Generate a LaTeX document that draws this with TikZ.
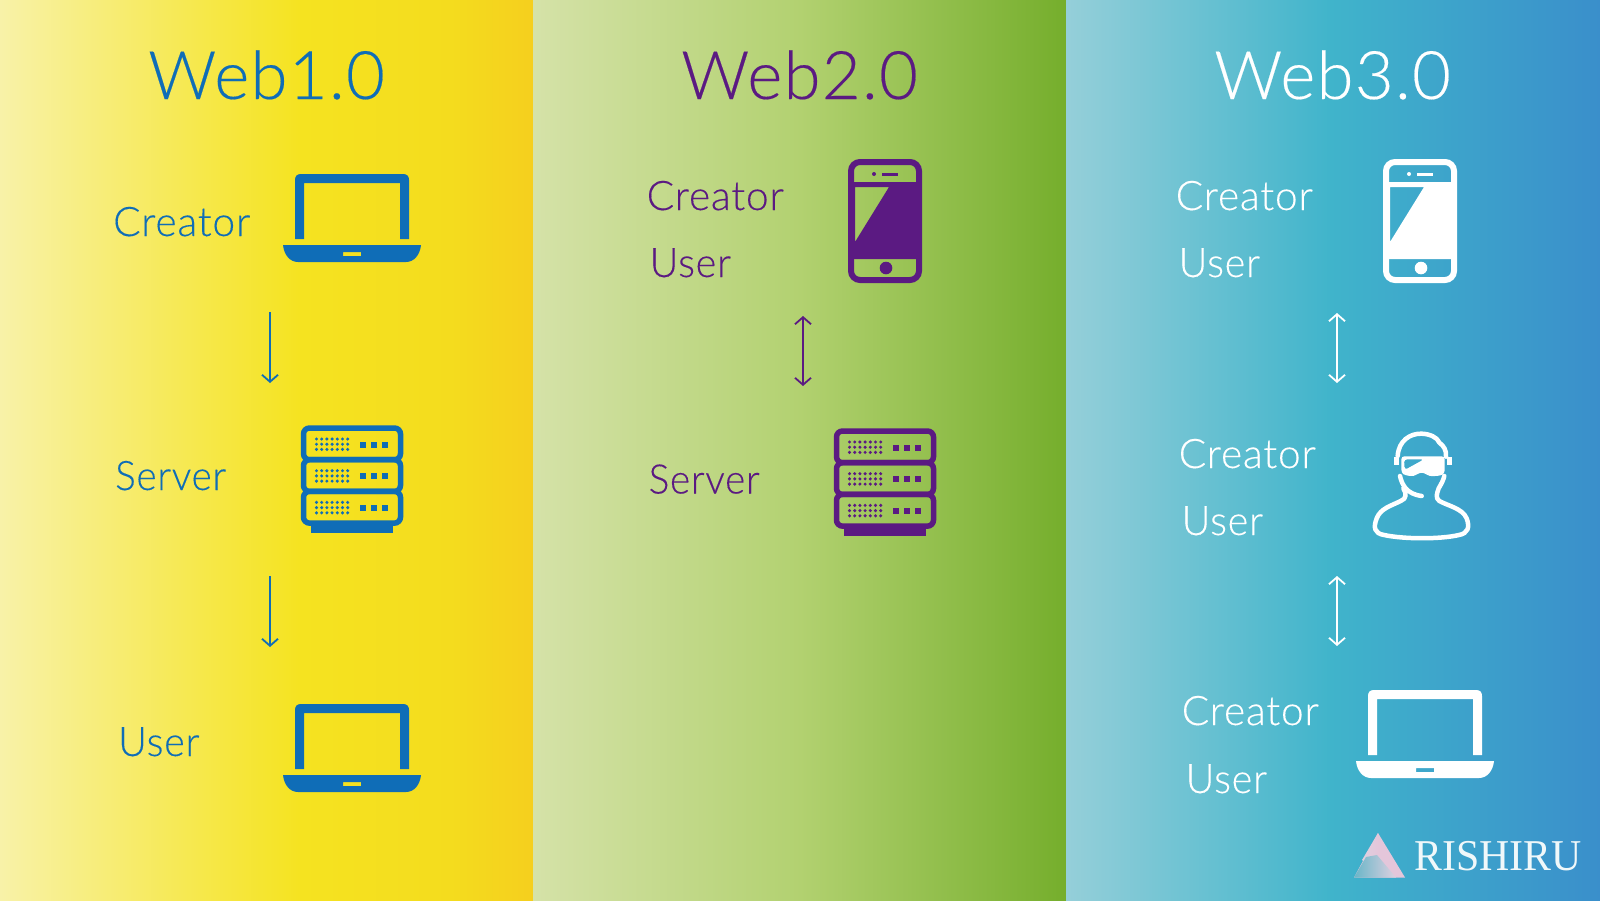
\documentclass[tikz,border=0pt]{standalone}
\usepackage{fontspec}
\setmainfont{Lato}[UprightFont=* Light,LetterSpace=2,UprightFeatures={FakeBold=0.25}]
\newfontfamily\logofont{Liberation Serif}
\usetikzlibrary{arrows.meta}
\definecolor{cblue}{HTML}{0F6DB7}
\definecolor{cpurple}{HTML}{5B1A82}
\definecolor{logopink}{RGB}{228,198,218}
\definecolor{logopale}{RGB}{222,208,224}
\definecolor{logoteal}{RGB}{105,182,200}
\tikzset{
  x=1pt,y=-1pt,
  title/.style={anchor=base west,inner sep=0pt,font=\fontsize{67}{68}\selectfont},
  lab/.style={anchor=base west,inner sep=0pt,font=\fontsize{40.7}{41}\selectfont},
  flow/.style={line width=1.8pt,-{Straight Barb[length=7pt,width=16pt,line width=1.8pt]}},
  flowboth/.style={line width=1.8pt,{Straight Barb[length=7pt,width=16pt,line width=1.8pt]}-{Straight Barb[length=7pt,width=16pt,line width=1.8pt]}},
  pics/laptop/.style={code={
    \fill[#1] (-57,0) -- (-57,-59) .. controls (-57,-63) and (-55,-65) .. (-51,-65) -- (51,-65) .. controls (55,-65) and (57,-63) .. (57,-59) -- (57,0) -- (48,0) -- (48,-56) -- (-48,-56) -- (-48,0) -- cycle;
    \fill[#1,even odd rule] (-69,6) -- (69,6) .. controls (68,16) and (62,23) .. (54,23) -- (-54,23) .. controls (-62,23) and (-68,16) .. (-69,6) -- cycle
      (-9,13) rectangle (9,17);
  }},
  pics/serverrack/.style={code={
    \foreach \r in {0,1,2}{
      \draw[#1,line width=5.5pt,rounded corners=6pt] (-48.5,{3+\r*31.7}) rectangle (48.5,{34.7+\r*31.7});
      \foreach \i in {0,...,6}\foreach \j in {0,1,2}
        \fill[#1] ({-35.5+\i*5.2},{14+\r*31.7+\j*5.2}) circle (1.7);
      \foreach \i in {0,1,2}
        \fill[#1] ({8+\i*11},{16.5+\r*31.7}) rectangle +(5.5,6);
    }
    \fill[#1] (-41,98) rectangle (41,108);
  }},
  pics/phoneicon/.style={code={
    \draw[#1,line width=6pt,rounded corners=9pt] (-34,-62) rectangle (34,56);
    \fill[#1,even odd rule] (-34,-42) rectangle (34,35) (-30,-37) -- (4,-37) -- (-30,18) -- cycle;
    \fill[#1] (-3,-51.5) rectangle (13,-48.5);
    \fill[#1] (-11,-50) circle (2);
    \fill[#1] (1,44) circle (6.3);
  }}
}
\begin{document}
\begin{tikzpicture}
\useasboundingbox (0,0) rectangle (1600,900);
% panels
\shade[left color={rgb,255:red,248;green,242;blue,168},right color={rgb,255:red,246;green,232;blue,75}] (0,0) rectangle (201,900);
\shade[left color={rgb,255:red,246;green,232;blue,75},right color={rgb,255:red,245;green,227;blue,32}] (200,0) rectangle (301,900);
\shade[left color={rgb,255:red,245;green,227;blue,32},right color={rgb,255:red,244;green,220;blue,30}] (300,0) rectangle (451,900);
\shade[left color={rgb,255:red,244;green,220;blue,30},right color={rgb,255:red,245;green,207;blue,30}] (450,0) rectangle (533.5,900);
\shade[left color={rgb,255:red,213;green,226;blue,168},right color={rgb,255:red,178;green,209;blue,112}] (533,0) rectangle (801,900);
\shade[left color={rgb,255:red,178;green,209;blue,112},right color={rgb,255:red,117;green,174;blue,44}] (800,0) rectangle (1066.5,900);
\shade[left color={rgb,255:red,149;green,207;blue,217},right color={rgb,255:red,64;green,180;blue,203}] (1066,0) rectangle (1331,900);
\shade[left color={rgb,255:red,64;green,180;blue,203},right color={rgb,255:red,58;green,143;blue,203}] (1330,0) rectangle (1600,900);
% titles
\node[title,text=cblue] (t1) at (148,99) {Web1.0};
\node[title,text=cpurple] (t2) at (681,99) {Web2.0};
\node[title,text=white] (t3) at (1214,99) {Web3.0};
% column 1
\node[lab,text=cblue] (c1a) at (113,236) {Creator};
\node[lab,text=cblue] (c1b) at (115,490) {\scalebox{.95}[1]{Server}};
\node[lab,text=cblue] (c1c) at (118,756) {\scalebox{.97}[1]{User}};
\pic at (352,239) {laptop=cblue};
\pic at (352,425) {serverrack=cblue};
\pic at (352,769) {laptop=cblue};
\coordinate (a1s) at (270,312); \coordinate (a1e) at (270,383);
\coordinate (a2s) at (270,576); \coordinate (a2e) at (270,647);
\draw[flow,cblue] (a1s) -- (a1e);
\draw[flow,cblue] (a2s) -- (a2e);
% column 2
\node[lab,text=cpurple] (c2a) at (646.5,210) {Creator};
\node[lab,text=cpurple] (c2b) at (649.5,277) {\scalebox{.97}[1]{User}};
\node[lab,text=cpurple] (c2c) at (648.5,493.5) {\scalebox{.95}[1]{Server}};
\pic at (885,224) {phoneicon=cpurple};
\pic at (885,428) {serverrack=cpurple};
\coordinate (b1s) at (803,316); \coordinate (b1e) at (803,386);
\draw[flowboth,cpurple] (b1s) -- (b1e);
% column 3
\node[lab,text=white] (c3a) at (1175.5,210) {Creator};
\node[lab,text=white] (c3b) at (1178.5,277) {\scalebox{.97}[1]{User}};
\node[lab,text=white] (c3c) at (1178.5,468) {Creator};
\node[lab,text=white] (c3d) at (1181.5,535) {\scalebox{.97}[1]{User}};
\node[lab,text=white] (c3e) at (1181.5,725) {Creator};
\node[lab,text=white] (c3f) at (1185.5,793) {\scalebox{.97}[1]{User}};
\pic at (1420,224) {phoneicon=white};
\coordinate (d1s) at (1337,313); \coordinate (d1e) at (1337,383);
\coordinate (d2s) at (1337,576); \coordinate (d2e) at (1337,646);
\draw[flowboth,white] (d1s) -- (d1e);
\draw[flowboth,white] (d2s) -- (d2e);
\pic at (1425,755) {laptop=white};
% VR person (drawn in zoom units)
\begin{scope}[shift={(1350,420)},x=0.3333pt,y=-0.3333pt,white,line cap=round,line join=round]
 \draw[line width=4.5pt] (143,108) .. controls (146,62) and (180,40) .. (215,41)
   .. controls (240,42) and (262,52) .. (268,68)
   .. controls (282,78) and (290,92) .. (288,110);
 \draw[line width=4.5pt] (150,168) .. controls (156,195) and (170,222) .. (215,228);
 \draw[line width=4.5pt] (160,205) .. controls (170,222) and (170,236) .. (152,243)
   .. controls (122,258) and (92,265) .. (80,295)
   .. controls (70,322) and (72,340) .. (102,345)
   .. controls (162,358) and (272,358) .. (327,345)
   .. controls (354,340) and (360,322) .. (350,295)
   .. controls (337,265) and (295,258) .. (268,243)
   .. controls (256,234) and (260,222) .. (266,205)
   .. controls (275,190) and (280,180) .. (283,168);
 \fill[even odd rule,rounded corners=3pt] (154,109) -- (284,109) -- (284,160) -- (272,167) -- (238,169) -- (222,158) -- (208,158) -- (192,169) -- (165,166) -- (154,158) -- cycle
   (162,118) -- (222,118) -- (164,150) -- cycle;
 \fill (132,112) rectangle (147,134);
 \fill (290,112) rectangle (305,134);
\end{scope}
% logo
\fill[logopink] (1378,833) -- (1405,877.5) -- (1354,877.5) -- cycle;
\shade[left color=logopale,right color=logopink] (1378,833) -- (1378,852) -- (1366,864) -- (1362,860) -- cycle;
\shade[left color=logoteal,right color=logopale] (1354,877.5) -- (1366,857) -- (1377,855) -- (1396,877.5) -- cycle;
\node[anchor=base west,inner sep=0pt,text={rgb,255:red,240;green,248;blue,250},font=\logofont\fontsize{44}{44}\selectfont] (logo) at (1414,870) {\scalebox{.95}[1]{RISHIRU}};
\end{tikzpicture}
\end{document}
